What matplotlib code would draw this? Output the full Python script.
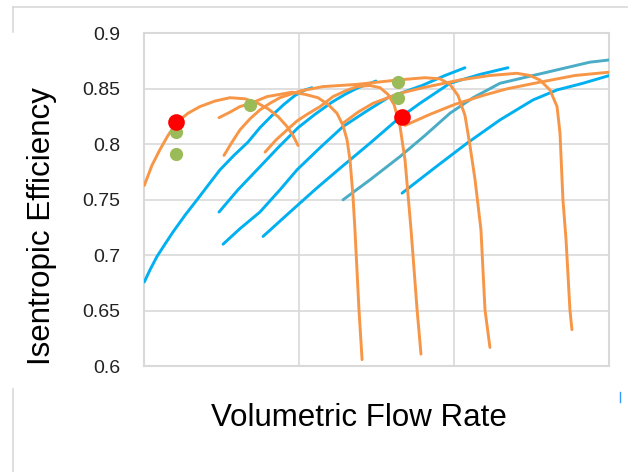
import matplotlib
matplotlib.use("Agg")
import matplotlib.pyplot as plt
from matplotlib.lines import Line2D

plt.rcParams["font.family"] = ["Liberation Sans", "DejaVu Sans"]

# ---- orange curves (x, y) ----
oa_x = [0.0, 0.049, 0.1, 0.153, 0.211, 0.282, 0.359, 0.456, 0.553, 0.65, 0.733, 0.798, 0.863, 0.921, 0.959, 0.992]
oa_y = [0.763, 0.781, 0.795, 0.808, 0.820, 0.828, 0.834, 0.839, 0.842, 0.841, 0.837, 0.832, 0.825, 0.816, 0.808, 0.799]

ob_x = [0.482, 0.553, 0.617, 0.688, 0.792, 0.875, 0.953, 1.037, 1.12, 1.185, 1.243, 1.282, 1.308, 1.327, 1.346, 1.359, 1.372, 1.385, 1.405]
ob_y = [0.824, 0.829, 0.834, 0.837, 0.843, 0.845, 0.847, 0.845, 0.842, 0.836, 0.828, 0.817, 0.804, 0.786, 0.754, 0.723, 0.687, 0.651, 0.606]

oc_x = [0.514, 0.566, 0.617, 0.682, 0.746, 0.811, 0.875, 0.940, 1.005, 1.153, 1.372, 1.637, 1.811, 1.908, 1.972, 2.024, 2.069, 2.101, 2.134, 2.172, 2.198, 2.230]
oc_y = [0.790, 0.802, 0.813, 0.823, 0.831, 0.837, 0.842, 0.845, 0.848, 0.852, 0.854, 0.858, 0.860, 0.859, 0.854, 0.844, 0.826, 0.799, 0.768, 0.723, 0.651, 0.617]

od_x = [0.779, 0.850, 0.921, 0.985, 1.050, 1.134, 1.218, 1.295, 1.372, 1.456, 1.521, 1.572, 1.611, 1.650, 1.682, 1.721, 1.760, 1.785]
od_y = [0.793, 0.804, 0.813, 0.821, 0.827, 0.834, 0.843, 0.848, 0.852, 0.853, 0.851, 0.845, 0.836, 0.816, 0.786, 0.723, 0.651, 0.611]

of_x = [1.282, 1.379, 1.476, 1.650, 1.798, 2.037, 2.230, 2.404, 2.488, 2.552, 2.617, 2.663, 2.682, 2.701, 2.721, 2.746, 2.759]
of_y = [0.819, 0.829, 0.837, 0.846, 0.851, 0.858, 0.862, 0.864, 0.862, 0.858, 0.849, 0.834, 0.810, 0.750, 0.714, 0.651, 0.633]

oe_x = [1.682, 1.843, 2.004, 2.185, 2.340, 2.553, 2.778, 3.0]
oe_y = [0.817, 0.827, 0.836, 0.844, 0.850, 0.856, 0.862, 0.865]

# ---- blue curves ----
b1_x = [0.0, 0.037, 0.082, 0.133, 0.185, 0.262, 0.340, 0.411, 0.488, 0.578, 0.669, 0.746, 0.824, 0.901, 0.972, 1.037, 1.082]
b1_y = [0.676, 0.687, 0.699, 0.710, 0.721, 0.736, 0.750, 0.763, 0.777, 0.790, 0.802, 0.815, 0.826, 0.836, 0.844, 0.849, 0.851]

b2_x = [0.482, 0.604, 0.727, 0.863, 0.992, 1.101, 1.211, 1.295, 1.379, 1.495]
b2_y = [0.739, 0.759, 0.777, 0.797, 0.815, 0.827, 0.838, 0.845, 0.851, 0.857]

b3_x = [0.508, 0.617, 0.746, 0.875, 0.985, 1.134, 1.282, 1.424, 1.572, 1.792, 1.940, 2.069]
b3_y = [0.710, 0.724, 0.739, 0.759, 0.777, 0.797, 0.816, 0.829, 0.842, 0.853, 0.862, 0.869]

b4_x = [0.766, 0.940, 1.108, 1.276, 1.456, 1.630, 1.779, 1.972, 2.166, 2.346]
b4_y = [0.717, 0.739, 0.760, 0.780, 0.801, 0.822, 0.837, 0.855, 0.863, 0.869]

b5_x = [1.663, 1.875, 2.082, 2.295, 2.508, 2.663, 2.830, 3.0]
b5_y = [0.756, 0.779, 0.801, 0.822, 0.840, 0.849, 0.855, 0.862]

teal_x = [1.282, 1.456, 1.650, 1.811, 1.972, 2.121, 2.295, 2.508, 2.875, 3.0]
teal_y = [0.750, 0.768, 0.789, 0.808, 0.828, 0.842, 0.855, 0.862, 0.874, 0.876]

# ---- points ----
red_x = [0.205, 1.663]
red_y = [0.820, 0.825]
green_x = [0.205, 0.205, 0.682, 1.637, 1.637]
green_y = [0.811, 0.791, 0.835, 0.856, 0.842]

yticks = [0.6, 0.65, 0.7, 0.75, 0.8, 0.85, 0.9]
ytick_labels = ["0.6", "0.65", "0.7", "0.75", "0.8", "0.85", "0.9"]

BLUE = "#00B0F0"
ORANGE = "#F79646"
TEAL = "#4BACC6"
GRID = "#D9D9D9"

fig = plt.figure(figsize=(6.28, 4.72), dpi=100)
ax = fig.add_axes([0.2298, 0.2239, 0.7404, 0.7055])

lw = 2.1
for xs, ys in [(b1_x, b1_y), (b2_x, b2_y), (b3_x, b3_y), (b4_x, b4_y), (b5_x, b5_y)]:
    ax.plot(xs, ys, color=BLUE, lw=lw, solid_capstyle="round", solid_joinstyle="round", zorder=3)
ax.plot(teal_x, teal_y, color=TEAL, lw=lw, solid_capstyle="round", solid_joinstyle="round", zorder=3)

for xs, ys in [(oa_x, oa_y), (ob_x, ob_y), (oc_x, oc_y), (od_x, od_y), (of_x, of_y), (oe_x, oe_y)]:
    ax.plot(xs, ys, color=ORANGE, lw=lw, solid_capstyle="round", solid_joinstyle="round", zorder=4)

ax.plot(green_x, green_y, "o", color="#9BBB59", ms=9.5, mec="none", zorder=5)
ax.plot(red_x, red_y, "o", color="#FF0000", ms=12, mec="none", zorder=6)

ax.set_xlim(0, 3)
ax.set_ylim(0.6, 0.9)
ax.set_xticks([1, 2])
ax.set_xticklabels([])
ax.set_yticks(yticks)
ax.set_yticklabels(ytick_labels, fontsize=14, color="#222222")
ax.tick_params(axis="both", length=0, pad=17)
ax.grid(True, color=GRID, lw=1.2)
ax.set_axisbelow(True)
for s in ax.spines.values():
    s.set_color(GRID)
    s.set_linewidth(1.5)

fig.text(42 / 628, 1 - 226 / 472, "Isentropic Efficiency", rotation=90,
         fontsize=22.5, ha="center", va="center", color="black")
fig.text(359 / 628, 1 - 418 / 472, "Volumetric Flow Rate",
         fontsize=22.5, ha="center", va="center", color="black")

# outer frame remnants of the screenshot
fig.add_artist(Line2D([13 / 628, 1], [1 - 7 / 472, 1 - 7 / 472], color=GRID, lw=1.2))
fig.add_artist(Line2D([13 / 628, 13 / 628], [1 - 7 / 472, 1 - 32 / 472], color=GRID, lw=1.2))
fig.add_artist(Line2D([13 / 628, 13 / 628], [1 - 389 / 472, 0], color=GRID, lw=1.2))
fig.add_artist(Line2D([620 / 628, 620 / 628], [1 - 392 / 472, 1 - 402 / 472], color="#3399FF", lw=1.0))

fig.savefig("out.png", dpi=100)
